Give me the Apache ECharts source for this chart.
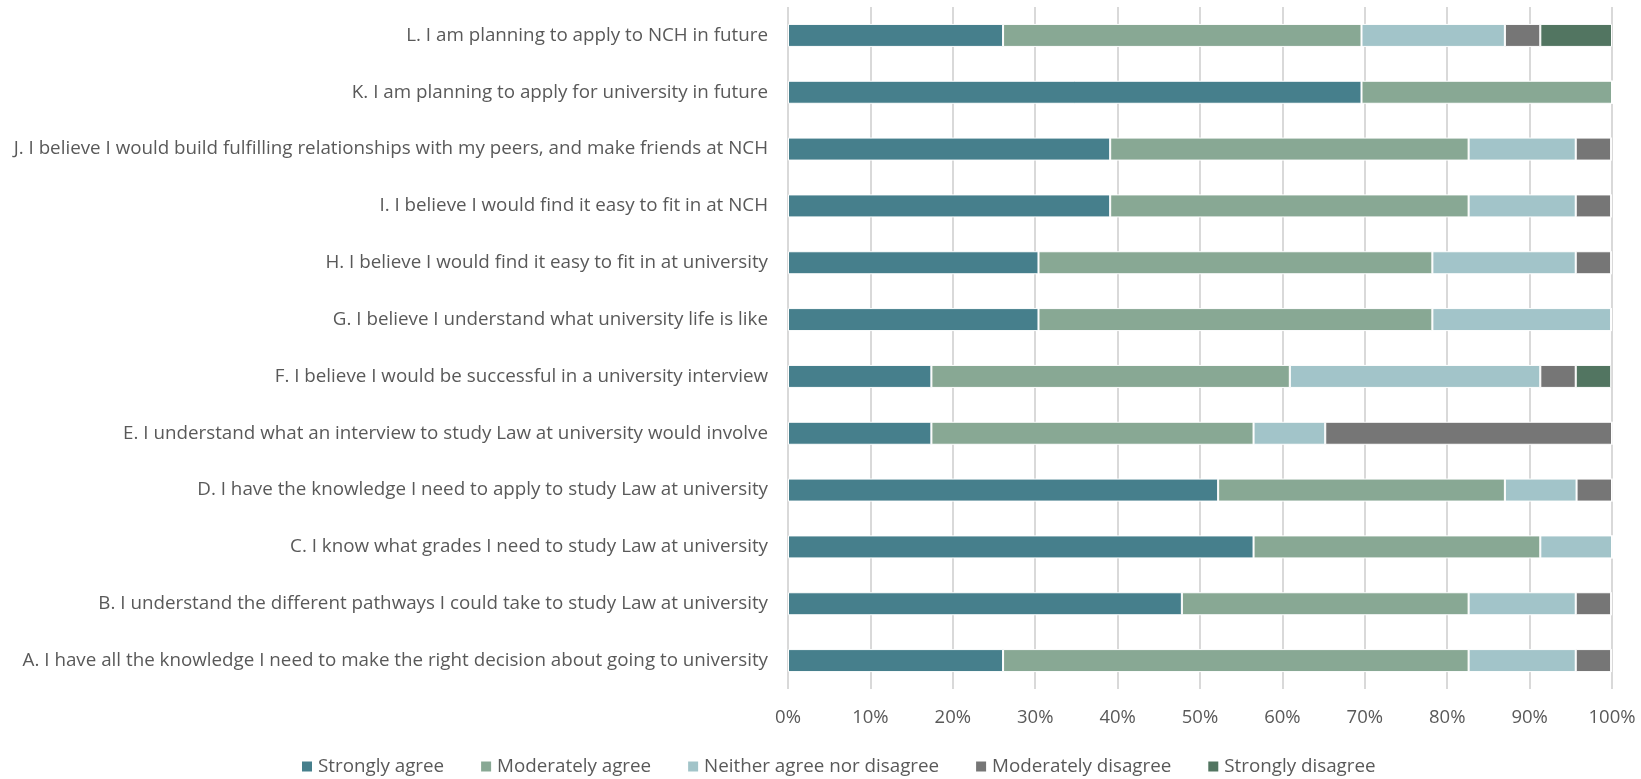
<!DOCTYPE html>
<html><head><meta charset="utf-8">
<script src="https://cdn.jsdelivr.net/npm/echarts@6/dist/echarts.min.js"></script>
<style>html,body{margin:0;padding:0;background:#fff}#c{width:1641px;height:779px}</style>
</head><body><div id="c"></div>
<script>
const categories = [
  "A. I have all the knowledge I need to make the right decision about going to university",
  "B. I understand the different pathways I could take to study Law at university",
  "C. I know what grades I need to study Law at university",
  "D. I have the knowledge I need to apply to study Law at university",
  "E. I understand what an interview to study Law at university would involve",
  "F. I believe I would be successful in a university interview",
  "G. I believe I understand what university life is like",
  "H. I believe I would find it easy to fit in at university",
  "I. I believe I would find it easy to fit in at NCH",
  "J. I believe I would build fulfilling relationships with my peers, and make friends at NCH",
  "K. I am planning to apply for university in future",
  "L. I am planning to apply to NCH in future"
];
const seriesNames = ["Strongly agree","Moderately agree","Neither agree nor disagree","Moderately disagree","Strongly disagree"];
const stronglyAgree      = [26.1, 47.8, 56.5, 52.2, 17.4, 17.4, 30.4, 30.4, 39.1, 39.1, 69.6, 26.1];
const moderatelyAgree    = [56.5, 34.8, 34.8, 34.8, 39.1, 43.5, 47.8, 47.8, 43.5, 43.5, 30.4, 43.5];
const neither            = [13.0, 13.0,  8.7,  8.7,  8.7, 30.4, 21.7, 17.4, 13.0, 13.0,  0.0, 17.4];
const moderatelyDisagree = [ 4.3,  4.3,  0.0,  4.3, 34.8,  4.3,  0.0,  4.3,  4.3,  4.3,  0.0,  4.3];
const stronglyDisagree   = [ 0.0,  0.0,  0.0,  0.0,  0.0,  4.3,  0.0,  0.0,  0.0,  0.0,  0.0,  8.7];
const xTicks = [0,10,20,30,40,50,60,70,80,90,100];
const colors = ["#467f8c","#88a894","#a2c4c9","#767676","#527561"];

const values = [stronglyAgree, moderatelyAgree, neither, moderatelyDisagree, stronglyDisagree];
const font = "'Open Sans', sans-serif";
const chart = echarts.init(document.getElementById('c'));
chart.setOption({
  animation: false,
  color: colors,
  textStyle: {fontFamily: font},
  grid: {left: 788, right: 29, top: 7, bottom: 90, containLabel: false},
  xAxis: {
    type: 'value', min: 0, max: 100, interval: 10,
    axisLabel: {formatter: v => v + '%', color: '#595959', fontSize: 18.5, fontFamily: font, margin: 19},
    splitLine: {show: true, lineStyle: {color: '#d9d9d9', width: 2}},
    axisLine: {show: false}, axisTick: {show: false}
  },
  yAxis: {
    type: 'category', data: categories,
    axisLabel: {color: '#595959', fontSize: 18.8, fontFamily: font, margin: 20},
    axisLine: {show: false}, axisTick: {show: false}
  },
  legend: {
    data: seriesNames, bottom: -2, left: 295,
    itemWidth: 12, itemHeight: 12, itemGap: 35, icon: 'rect',
    textStyle: {color: '#595959', fontSize: 18.8, fontFamily: font}
  },
  series: seriesNames.map((n, i) => ({
    name: n, type: 'bar', stack: 'total', barWidth: 23,
    data: values[i],
    itemStyle: {borderColor: '#fff', borderWidth: 1}
  }))
});
</script></body></html>
